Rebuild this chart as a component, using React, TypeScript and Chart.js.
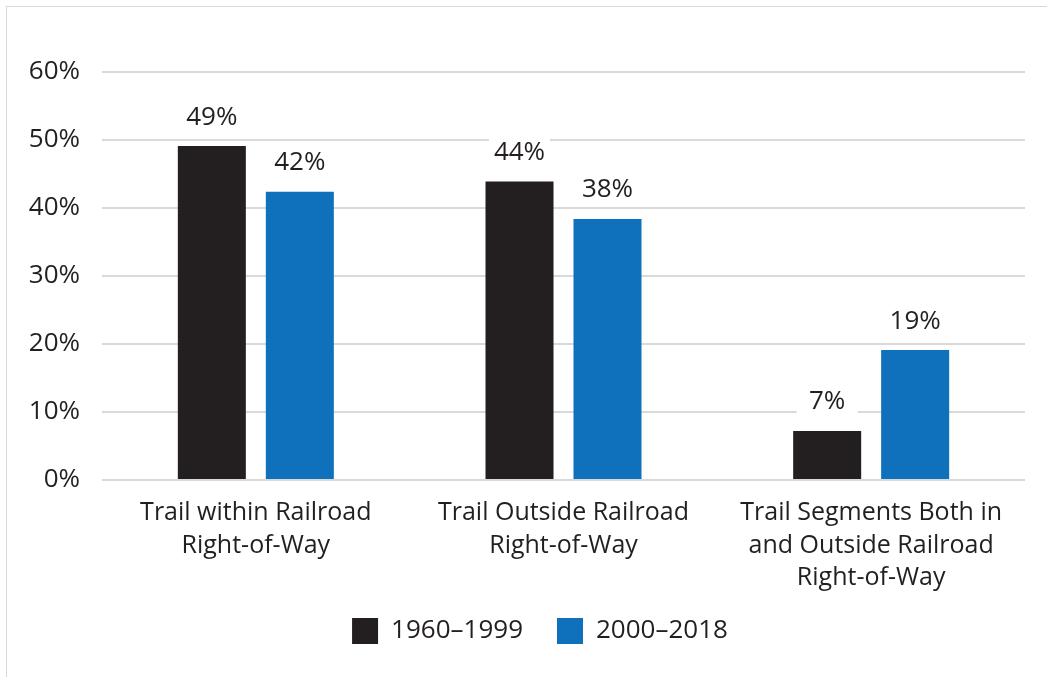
import React, { useEffect, useRef } from "react";
import { Chart, registerables } from "chart.js";

Chart.register(...registerables);

const categories: string[][] = [
  ["Trail within Railroad", "Right-of-Way"],
  ["Trail Outside Railroad", "Right-of-Way"],
  ["Trail Segments Both in", "and Outside Railroad", "Right-of-Way"],
];
const seriesNames = ["1960–1999", "2000–2018"];
const series1960 = [49.1, 43.9, 7.2];
const series2000 = [42.4, 38.4, 19.1];
const yTicks = [0, 10, 20, 30, 40, 50, 60];

const TEXT = "#231f20";
const FONT = "'Open Sans', 'Noto Sans', sans-serif";

const dataLabelPlugin = {
  id: "dataLabels",
  afterDatasetsDraw(chart: any) {
    const ctx = chart.ctx;
    ctx.save();
    ctx.font = `26px ${FONT}`;
    ctx.textAlign = "center";
    ctx.textBaseline = "middle";
    chart.data.datasets.forEach((ds: any, di: number) => {
      const meta = chart.getDatasetMeta(di);
      meta.data.forEach((el: any, i: number) => {
        const v = ds.data[i];
        const txt = Math.round(v) + "%";
        const cy = el.y - 29;
        ctx.fillStyle = "#ffffff";
        ctx.fillRect(el.x - 30.5, cy - 17, 61, 34);
        ctx.fillStyle = TEXT;
        ctx.fillText(txt, el.x, cy);
      });
    });
    ctx.restore();
  },
};

const legendShiftPlugin = {
  id: "legendShift",
  afterLayout(chart: any) {
    if (chart.legend) {
      chart.legend.left = 55;
      chart.legend.top = 584;
    }
  },
};

export default function App() {
  const ref = useRef<HTMLCanvasElement | null>(null);
  useEffect(() => {
    if (!ref.current) return;
    const chart = new Chart(ref.current, {
      type: "bar",
      data: {
        labels: categories,
        datasets: [
          {
            label: seriesNames[0],
            data: series1960,
            backgroundColor: "#231f20",
            categoryPercentage: 0.572,
            barPercentage: 0.773,
          },
          {
            label: seriesNames[1],
            data: series2000,
            backgroundColor: "#0f71bb",
            categoryPercentage: 0.572,
            barPercentage: 0.773,
          },
        ],
      },
      options: {
        responsive: false,
        animation: false,
        layout: { padding: { left: 20, right: 22, top: 72, bottom: 11 } },
        plugins: {
          tooltip: { enabled: false },
          legend: {
            position: "bottom",
            labels: {
              boxWidth: 26,
              boxHeight: 26,
              padding: 34,
              color: TEXT,
              font: { size: 26, family: FONT },
            },
          },
        },
        scales: {
          x: {
            grid: { display: false },
            border: { display: false },
            ticks: {
              color: TEXT,
              font: { size: 25, family: FONT, lineHeight: 1.3 },
              padding: 9,
              maxRotation: 0,
              autoSkip: false,
            },
            afterFit: (s: any) => {
              s.height = 116;
            },
          },
          y: {
            min: 0,
            max: 60,
            afterBuildTicks: (s: any) => {
              s.ticks = yTicks.map((v) => ({ value: v }));
            },
            grid: { color: "#d9d9d9", lineWidth: 2, drawTicks: false },
            border: { display: false },
            ticks: {
              color: TEXT,
              font: { size: 26, family: FONT },
              padding: 22,
              callback: (v: any) => v + "%",
            },
            afterFit: (s: any) => {
              s.width = 82;
            },
          },
        },
      },
      plugins: [dataLabelPlugin, legendShiftPlugin],
    });
    return () => chart.destroy();
  }, []);

  return (
    <div style={{ position: "fixed", inset: 0, overflow: "hidden", background: "#fff" }}>
      <div
        style={{
          position: "absolute",
          left: 6,
          top: 6,
          width: 1100,
          height: 700,
          border: "1px solid #d9d9d9",
        }}
      />
      <canvas
        ref={ref}
        width={1047}
        height={677}
        style={{ position: "absolute", left: 0, top: 0, width: 1047, height: 677 }}
      />
    </div>
  );
}
